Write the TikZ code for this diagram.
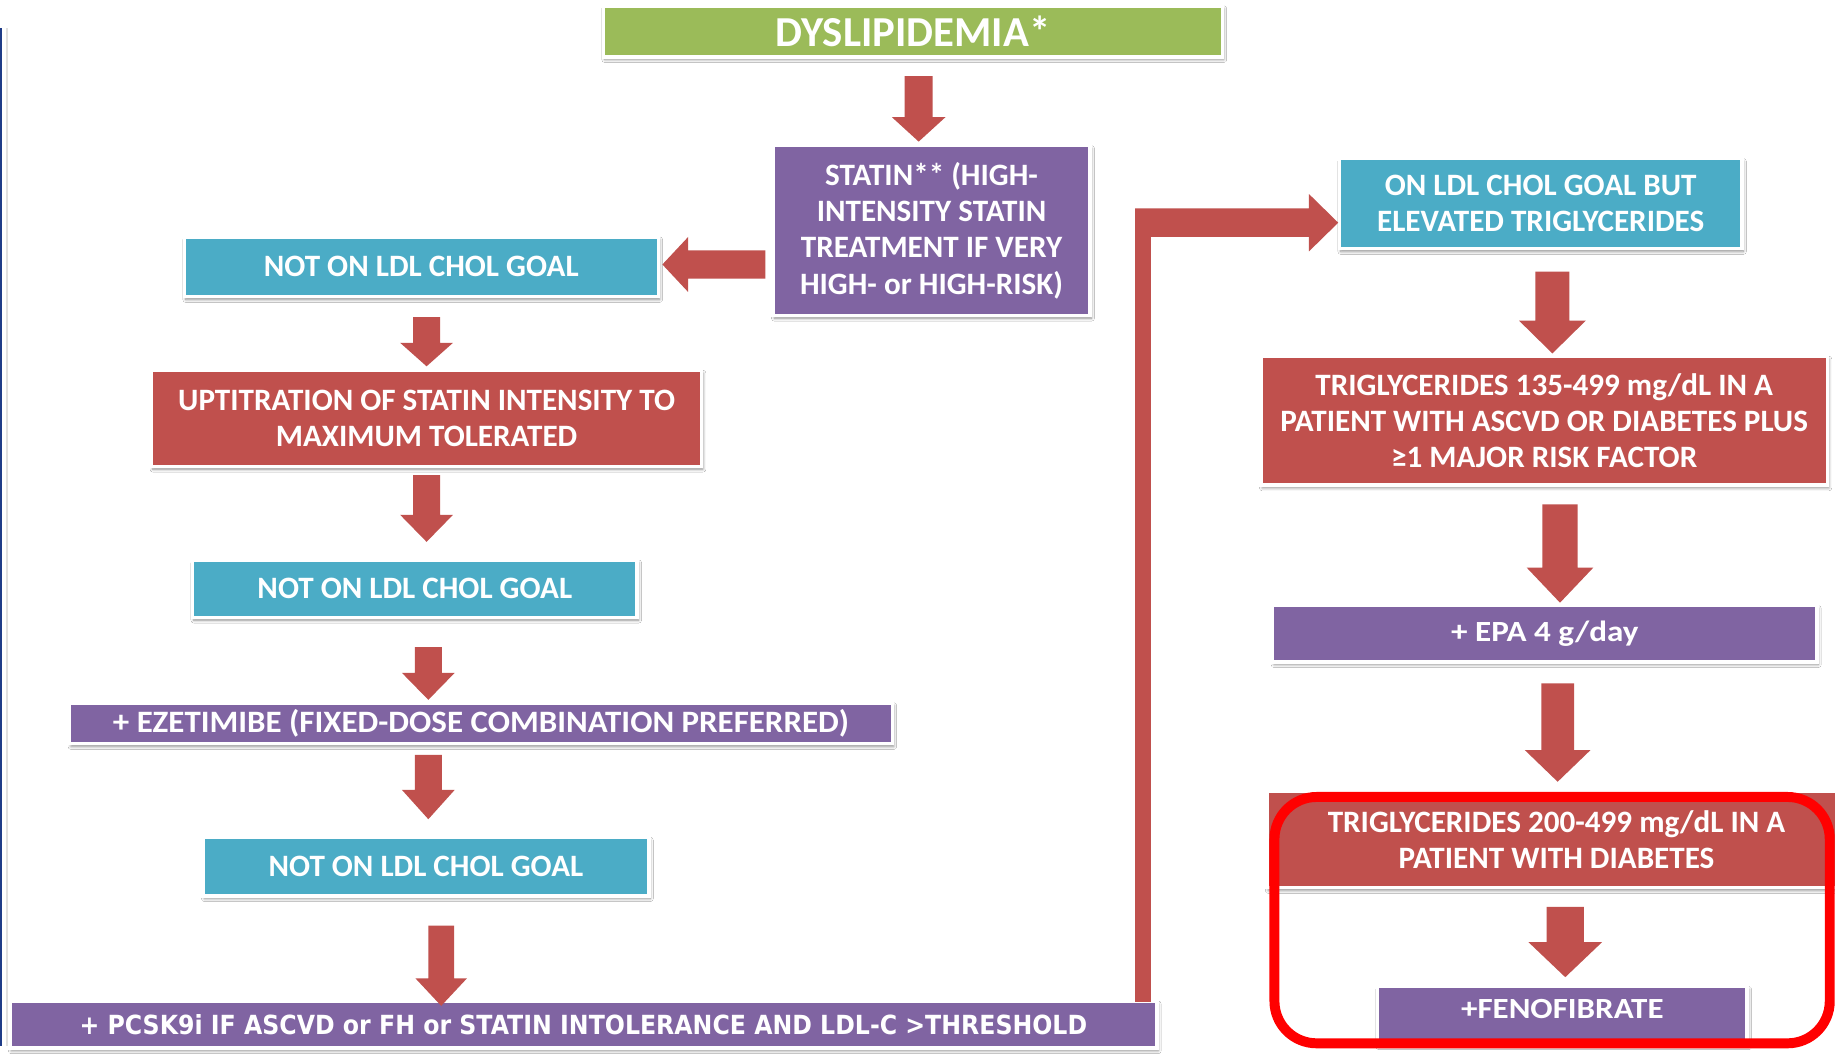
\documentclass[tikz,border=0pt]{standalone}
\usepackage{fontspec}
\usepackage{graphicx}
\setmainfont{Carlito}
\newfontfamily\wideface{DejaVu Sans}
\usetikzlibrary{calc,shadows.blur}

\definecolor{olivegreen}{HTML}{9BBB59}
\definecolor{aqua}{HTML}{4BACC6}
\definecolor{brick}{HTML}{C0504D}
\definecolor{plum}{HTML}{8064A2}
\definecolor{navyedge}{HTML}{1F3C88}
\definecolor{ringred}{HTML}{FF0000}

% block arrow pointing down: start point, tip point, shaft half width, head half width, head length
\newcommand{\downblock}[5]{%
  \fill[brick] let \p1=#1, \p2=#2 in
    (\x1-#3pt,\y1) -- (\x1+#3pt,\y1) -- (\x1+#3pt,\y2+#5pt) -- (\x1+#4pt,\y2+#5pt)
    -- (\x1,\y2) -- (\x1-#4pt,\y2+#5pt) -- (\x1-#3pt,\y2+#5pt) -- cycle;}
% block arrow pointing left: start point, tip point, shaft half width, head half width, head length
\newcommand{\leftblock}[5]{%
  \fill[brick] let \p1=#1, \p2=#2 in
    (\x1,\y1+#3pt) -- (\x2+#5pt,\y1+#3pt) -- (\x2+#5pt,\y1+#4pt) -- (\x2,\y1)
    -- (\x2+#5pt,\y1-#4pt) -- (\x2+#5pt,\y1-#3pt) -- (\x1,\y1-#3pt) -- cycle;}

\begin{document}
\begin{tikzpicture}[x=1pt,y=-1pt,
  box/.style={rectangle, draw=white, line width=3pt, inner sep=0pt, outer sep=0pt,
    text=white, align=center, font=\bfseries\fontsize{26.6}{31}\selectfont,
    blur shadow={shadow xshift=1.2pt, shadow yshift=-2.4pt, shadow blur radius=2.5pt,
      shadow blur steps=6, shadow opacity=45}},
  plain/.style={inner sep=0pt, text=white, align=center}]

\fill[white] (0,0) rectangle (1568,902);
\useasboundingbox (0,0) rectangle (1568,902);

% slide edge on the left
\draw[black!12, line width=2pt] (6,24) -- (6,894);
\draw[navyedge, line width=2pt] (1,24) -- (1,894);

% ---- boxes ----
\node[box, fill=olivegreen, minimum width=529pt, minimum height=43.5pt,
  font=\bfseries\fontsize{36.5}{42}\selectfont] (dys) at (780,26.75) {DYSLIPIDEMIA*};

\node[box, fill=plum, minimum width=271pt, minimum height=145pt] (statin) at (796,197)
  {STATIN** (HIGH-\\INTENSITY STATIN\\TREATMENT IF VERY\\HIGH- or HIGH-RISK)};

\node[box, fill=aqua, minimum width=405pt, minimum height=51pt] (goalA) at (360,228)
  {NOT ON LDL CHOL GOAL};

\node[box, fill=brick, minimum width=470pt, minimum height=82pt] (uptit) at (364.5,357.5)
  {UPTITRATION OF STATIN INTENSITY TO\\MAXIMUM TOLERATED};

\node[box, fill=aqua, minimum width=380pt, minimum height=49pt] (goalB) at (354.5,503)
  {NOT ON LDL CHOL GOAL};

\node[box, fill=plum, minimum width=703pt, minimum height=35pt] (ezet) at (411,618)
  {\resizebox{629pt}{\height}{+ EZETIMIBE (FIXED-DOSE COMBINATION PREFERRED)}};

\node[box, fill=aqua, minimum width=381pt, minimum height=50pt] (goalC) at (364,740.5)
  {NOT ON LDL CHOL GOAL};

\node[box, fill=plum, minimum width=980pt, minimum height=40pt,
  font=\bfseries\fontsize{22.5}{26}\selectfont] (pcsk) at (498.5,875.5)
  {\wideface\resizebox{861pt}{\height}{+ PCSK9i IF ASCVD or FH or STATIN INTOLERANCE AND LDL-C >THRESHOLD}};

\node[box, fill=aqua, minimum width=344pt, minimum height=77pt] (ongoal) at (1316.5,174)
  {ON LDL CHOL GOAL BUT\\ELEVATED TRIGLYCERIDES};

\node[box, fill=brick, minimum width=484pt, minimum height=110pt] (tgA) at (1319.5,359.5)
  {TRIGLYCERIDES 135-499 mg/dL IN A\\PATIENT WITH ASCVD OR DIABETES PLUS\\≥1 MAJOR RISK FACTOR};

\node[box, fill=plum, minimum width=465pt, minimum height=48pt,
  font=\bfseries\fontsize{25}{30}\selectfont] (epa) at (1320,541.5)
  {\resizebox{160pt}{\height}{+ EPA 4 g/day}};

\node[box, fill=brick, minimum width=495pt, minimum height=82pt] (tgB) at (1330,717.5)
  {TRIGLYCERIDES 200-499 mg/dL IN A\\PATIENT WITH DIABETES};

\node[box, fill=plum, minimum width=316pt, minimum height=49pt] (feno) at (1335,867.5) {};
\node[plain, font=\bfseries\fontsize{25}{30}\selectfont] (fenotext) at ([yshift=5.5pt]feno.center)
  {\resizebox{173pt}{\height}{+FENOFIBRATE}};

% ---- block arrows ----
\downblock{([xshift=5pt,yshift=-16.5pt]dys.south)}{([yshift=3.5pt]statin.north)}{12}{23}{21}
\leftblock{([xshift=-6.5pt,yshift=-29pt]statin.west)}{([xshift=3.5pt]goalA.east)}{12}{23.5}{22}
\downblock{([xshift=4.5pt,yshift=-17.5pt]goalA.south)}{([yshift=3.5pt]uptit.north)}{11.5}{22.5}{20}
\downblock{([yshift=-7.5pt]uptit.south)}{([yshift=15.5pt]goalB.north)}{11.5}{22.5}{23}
\downblock{([xshift=11.5pt,yshift=-25.5pt]goalB.south)}{([yshift=2.5pt]ezet.north)}{11.5}{22.5}{23}
\downblock{([xshift=-45pt,yshift=-9.5pt]ezet.south)}{([yshift=15.5pt]goalC.north)}{11.5}{22.5}{25}
\downblock{([xshift=13pt,yshift=-25.5pt]goalC.south)}{([yshift=-4pt]pcsk.north)}{11}{22}{23.5}
\downblock{([xshift=10pt,yshift=-19.5pt]ongoal.south)}{([yshift=2.5pt]tgA.north)}{14.5}{28.5}{28}
\downblock{([xshift=13.5pt,yshift=-16.5pt]tgA.south)}{([yshift=2.5pt]epa.north)}{15}{28.5}{30}
\downblock{([xshift=11pt,yshift=-18.5pt]epa.south)}{([yshift=8.5pt]tgB.north)}{14}{28}{27}
\downblock{([xshift=7.5pt,yshift=-16.5pt]tgB.south)}{([yshift=8pt]feno.north)}{16}{31.5}{30}

% elbow arrow from the PCSK9i bar up and across to the triglyceride branch
\fill[brick] let \p1=([xshift=478.2pt,yshift=-0.5pt]pcsk.north),
                 \p2=([xshift=-1pt,yshift=-16.3pt]ongoal.west) in
  (\x1-6.8pt,\y1) -- (\x1-6.8pt,\y2+12.3pt) -- (\x2-25pt,\y2+12.3pt) -- (\x2-25pt,\y2+24.5pt)
  -- (\x2,\y2) -- (\x2-25pt,\y2-24.5pt) -- (\x2-25pt,\y2-12.2pt) -- (\x1+6.8pt,\y2-12.2pt)
  -- (\x1+6.8pt,\y1) -- cycle;

% highlight ring round the fenofibrate step
\draw[ringred, line width=8.5pt, rounded corners=36pt] (1089,681) rectangle (1563.5,891.5);

\end{tikzpicture}
\end{document}
